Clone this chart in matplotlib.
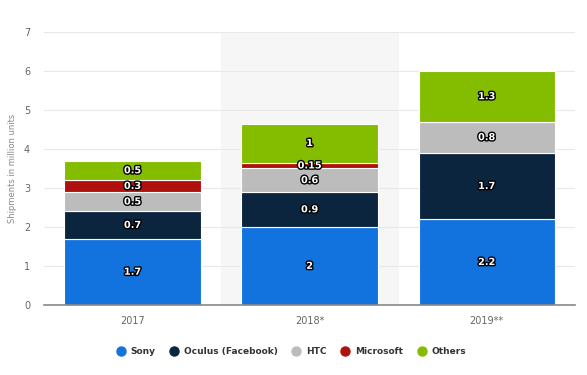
import matplotlib.pyplot as plt
import matplotlib.patheffects as pe
from matplotlib.lines import Line2D

years = ["2017", "2018*", "2019**"]
brands = ["Sony", "Oculus (Facebook)", "HTC", "Microsoft", "Others"]
sony = [1.7, 2, 2.2]
oculus = [0.7, 0.9, 1.7]
htc = [0.5, 0.6, 0.8]
microsoft = [0.3, 0.15, 0]
others = [0.5, 1, 1.3]
colors = ["#1273de", "#0c253f", "#bcbcbc", "#b1110c", "#84bd00"]

series = [sony, oculus, htc, microsoft, others]

fig = plt.figure(figsize=(5.87, 3.75), dpi=100)
ax = fig.add_axes([0.075, 0.187, 0.905, 0.728])

x = list(range(len(years)))
ax.axvspan(0.5, 1.5, color="#f6f6f6", zorder=0)

bottom = [0.0] * len(years)
for vals, col in zip(series, colors):
    ax.bar(x, vals, bottom=bottom, width=0.77, color=col,
           edgecolor="white", linewidth=0.8, zorder=2)
    for i, v in enumerate(vals):
        if v > 0:
            ax.text(i, bottom[i] + v / 2, f"{v:g}", ha="center", va="center",
                    color="white", fontsize=7, fontweight="bold", zorder=3,
                    path_effects=[pe.withStroke(linewidth=2, foreground="black")])
    bottom = [b + v for b, v in zip(bottom, vals)]

ax.set_xlim(-0.5, 2.5)
ax.set_ylim(0, 7)
ax.set_xticks(x)
ax.set_xticklabels(years)
ax.set_yticks(range(8))
ax.tick_params(length=0, labelsize=7, colors="#666666", pad=10)
ax.tick_params(axis="x", pad=8)
ax.grid(axis="y", color="#e8e8e8", linewidth=0.8, zorder=1)
ax.set_axisbelow(True)
for s in ["top", "right", "left"]:
    ax.spines[s].set_visible(False)
ax.spines["bottom"].set_color("#888888")
ax.spines["bottom"].set_linewidth(1.2)
ax.set_ylabel("Shipments in million units", fontsize=6, color="#888888", labelpad=5)

handles = [Line2D([], [], marker="o", linestyle="", markersize=6.5,
                  markerfacecolor=c, markeredgecolor=c) for c in colors]
fig.legend(handles, brands, loc="center", bbox_to_anchor=(0.495, 0.062), ncol=5,
           frameon=False, handletextpad=0.45, columnspacing=1.5, handlelength=1.2,
           prop={"size": 6.5, "weight": "bold"}, labelcolor="#333333")

fig.savefig("out.png", dpi=100)
